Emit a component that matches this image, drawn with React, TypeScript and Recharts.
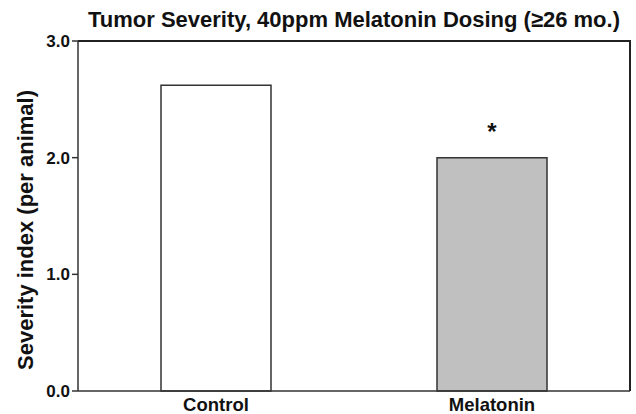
import { BarChart, Bar, XAxis, YAxis, Cell, LabelList, Label, ReferenceLine } from 'recharts';

const FONT = '"Liberation Sans", Arial, Helvetica, sans-serif';

// values
const groups = ['Control', 'Melatonin'];
const severity = [2.62, 2.0];
const significance = ['', '*'];
const barFills = ['#ffffff', '#c0c0c0'];
const yTicks = [0, 1, 2, 3];

const data = groups.map((g, i) => ({ group: g, severity: severity[i], sig: significance[i] }));

const W = 636;
const H = 414;
const MARGIN = { top: 41, right: 6, left: 0, bottom: 0 };
const Y_AXIS_W = 78;
const X_AXIS_H = 23;
const LINE = 1.5;
const BORDER = 2;

const frame = { stroke: '#333333', strokeWidth: LINE };

function GroupTick({ x, y, payload }: any) {
  return (
    <text x={x} y={y + 20} textAnchor="middle" fontSize={18.5} fontWeight={700} fill="#111111" fontFamily={FONT}>
      {payload.value}
    </text>
  );
}

export default function App() {
  const plotW = W - MARGIN.left - MARGIN.right - Y_AXIS_W;
  const plotH = H - MARGIN.top - MARGIN.bottom - X_AXIS_H;
  return (
    <div
      style={{
        position: 'absolute',
        left: 0,
        top: 0,
        width: W,
        height: H,
        background: '#ffffff',
        fontFamily: FONT,
      }}
    >
      <div
        style={{
          position: 'absolute',
          left: Y_AXIS_W,
          top: 7,
          width: plotW,
          textAlign: 'center',
          fontSize: 22,
          fontWeight: 700,
          color: '#111111',
          lineHeight: '26px',
          whiteSpace: 'nowrap',
        }}
      >
        Tumor Severity, 40ppm Melatonin Dosing (≥26 mo.)
      </div>
      <BarChart width={W} height={H} data={data} margin={MARGIN} barCategoryGap="30%">
        <XAxis
          dataKey="group"
          height={X_AXIS_H}
          tickLine={false}
          tickSize={0}
          tickMargin={0}
          axisLine={frame}
          tick={<GroupTick />}
        />
        <YAxis
          width={Y_AXIS_W}
          domain={[0, 3]}
          ticks={yTicks}
          tickSize={6}
          tickMargin={2}
          tickFormatter={(v: number) => v.toFixed(1)}
          tickLine={frame}
          axisLine={frame}
          tick={{ fontSize: 17, fontWeight: 700, fill: '#111111', fontFamily: FONT }}
        >
          <Label
            content={({ viewBox }: any) => {
              const cx = viewBox.x + 25;
              const cy = viewBox.y + viewBox.height / 2 + 14;
              return (
                <text
                  x={cx}
                  y={cy}
                  transform={`rotate(-90 ${cx} ${cy})`}
                  textAnchor="middle"
                  dominantBaseline="central"
                  fontSize={22}
                  fontWeight={700}
                  fill="#111111"
                  fontFamily={FONT}
                >
                  Severity index (per animal)
                </text>
              );
            }}
          />
        </YAxis>
        <ReferenceLine y={3} stroke="#222222" strokeWidth={BORDER} ifOverflow="visible" />
        <Bar dataKey="severity" barSize={110} stroke="#333333" strokeWidth={LINE} isAnimationActive={false}>
          {data.map((d, i) => (
            <Cell key={d.group} fill={barFills[i]} />
          ))}
          <LabelList dataKey="sig" position="top" offset={18} fontSize={24} fontWeight={700} fill="#111111" fontFamily={FONT} />
        </Bar>
      </BarChart>
      {/* top and right edges of the boxed plot area */}
      <div
        style={{
          position: 'absolute',
          left: MARGIN.left + Y_AXIS_W,
          top: MARGIN.top - BORDER / 2,
          width: plotW + BORDER / 2,
          height: plotH + BORDER / 2,
          boxSizing: 'border-box',
          borderTop: `${BORDER}px solid #222222`,
          borderRight: `${BORDER}px solid #222222`,
          pointerEvents: 'none',
        }}
      />
    </div>
  );
}
